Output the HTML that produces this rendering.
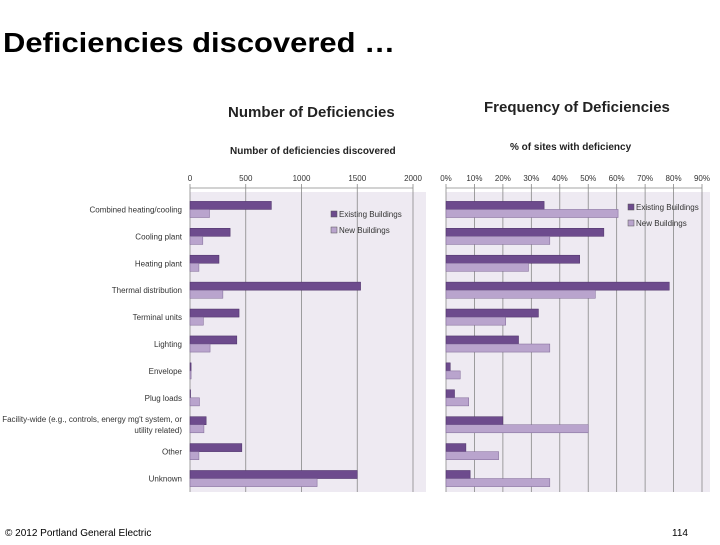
<!DOCTYPE html>
<html><head><meta charset="utf-8"><style>
body{margin:0;width:720px;height:540px;background:#fff;overflow:hidden;font-family:"Liberation Sans",sans-serif}
svg text{font-family:"Liberation Sans",sans-serif}
</style></head><body>
<svg width="720" height="540" xmlns="http://www.w3.org/2000/svg">
<text x="3" y="52" font-size="28" font-weight="bold" fill="#000" textLength="392" lengthAdjust="spacingAndGlyphs">Deficiencies discovered …</text>
<text x="228" y="117" font-size="15" font-weight="bold" fill="#222">Number of Deficiencies</text>
<text x="230" y="154" font-size="10" font-weight="bold" fill="#222">Number of deficiencies discovered</text>
<text x="484" y="112" font-size="15" font-weight="bold" fill="#222">Frequency of Deficiencies</text>
<text x="510" y="150" font-size="10" font-weight="bold" fill="#222">% of sites with deficiency</text>
<g id="left"></g>
<g id="right"></g>
<g id="cats"></g>
<text x="5" y="536" font-size="10" fill="#000">© 2012 Portland General Electric</text>
<text x="672" y="536" font-size="10" fill="#000">114</text>
</svg>
<script>
const categories=["Combined heating/cooling","Cooling plant","Heating plant","Thermal distribution","Terminal units","Lighting","Envelope","Plug loads","Facility-wide (e.g., controls, energy mg't system, or|utility related)","Other","Unknown"];
const countExisting=[730,360,260,1530,440,420,10,5,145,465,1500];
const countNew=[175,115,80,295,120,180,10,85,125,80,1140];
const pctExisting=[34.5,55.5,47,78.5,32.5,25.5,1.5,3,20,7,8.5];
const pctNew=[60.5,36.5,29,52.5,21,36.5,5,8,50,18.5,36.5];
const countTicks=[0,500,1000,1500,2000];
const pctTicks=[0,10,20,30,40,50,60,70,80,90];
const NS="http://www.w3.org/2000/svg";
function mk(p,t,a){const e=document.createElementNS(NS,t);for(const k in a)e.setAttribute(k,a[k]);p.appendChild(e);return e;}
const yTop=196,yBot=492,band=(yBot-yTop)/categories.length;
function chart(g,x0,x1,bgR,max,ticks,fmt,ex,nw,lx,ly,nm){
  const sx=v=>x0+(v/max)*(x1-x0);
  const bg=mk(g,'rect',{x:x0,y:yTop-4,width:bgR-x0,height:yBot-yTop+4,fill:'#eeeaf2'});
  
  
  ticks.forEach(t=>{
    const gl=mk(g,'line',{x1:sx(t),x2:sx(t),y1:yTop-12,y2:yBot,stroke:'#888','stroke-width':0.8});
    
    
    const tl=mk(g,'text',{x:sx(t),y:181,'font-size':8,'text-anchor':'middle',fill:'#333'});
    tl.textContent=fmt(t);
    
    
  });
  mk(g,'line',{x1:x0,x2:x1,y1:yTop-8,y2:yTop-8,stroke:'#888','stroke-width':0.8});
  ex.forEach((v,i)=>{
    const y=yTop+i*band+band*0.2;
    const b1=mk(g,'rect',{x:x0,y:y,width:sx(v)-x0,height:band*0.3,fill:'#6d4b8d',stroke:'#4b2f66','stroke-width':0.5});
    
    
    const b2=mk(g,'rect',{x:x0,y:y+band*0.3,width:sx(nw[i])-x0,height:band*0.3,fill:'#b9a4cd',stroke:'#7d6695','stroke-width':0.5});
    
    
  });
  [['Existing Buildings','#6d4b8d'],['New Buildings','#b9a4cd']].forEach((l,i)=>{
    const r=mk(g,'rect',{x:lx,y:ly+i*16-6,width:6,height:6,fill:l[1],stroke:'#555','stroke-width':0.5});
    
    
    const t=mk(g,'text',{x:lx+8,y:ly+i*16,'font-size':8,fill:'#333'});
    t.textContent=l[0];
    
    
  });
}
chart(document.getElementById('left'),190,413,426,2000,countTicks,t=>t,countExisting,countNew,331,217,'left');
chart(document.getElementById('right'),446,702,710,90,pctTicks,t=>t+'%',pctExisting,pctNew,628,210,'right');
const cg=document.getElementById('cats');
categories.forEach((c,i)=>{
  const lines=c.split('|');
  const cy=yTop+i*band+band/2+3;
  lines.forEach((ln,j)=>{
    const t=mk(cg,'text',{x:182,y:cy+(j-(lines.length-1)/2)*11,'font-size':8,'text-anchor':'end',fill:'#333'});
    t.textContent=ln;
    
    
  });
});
</script>
</body></html>
